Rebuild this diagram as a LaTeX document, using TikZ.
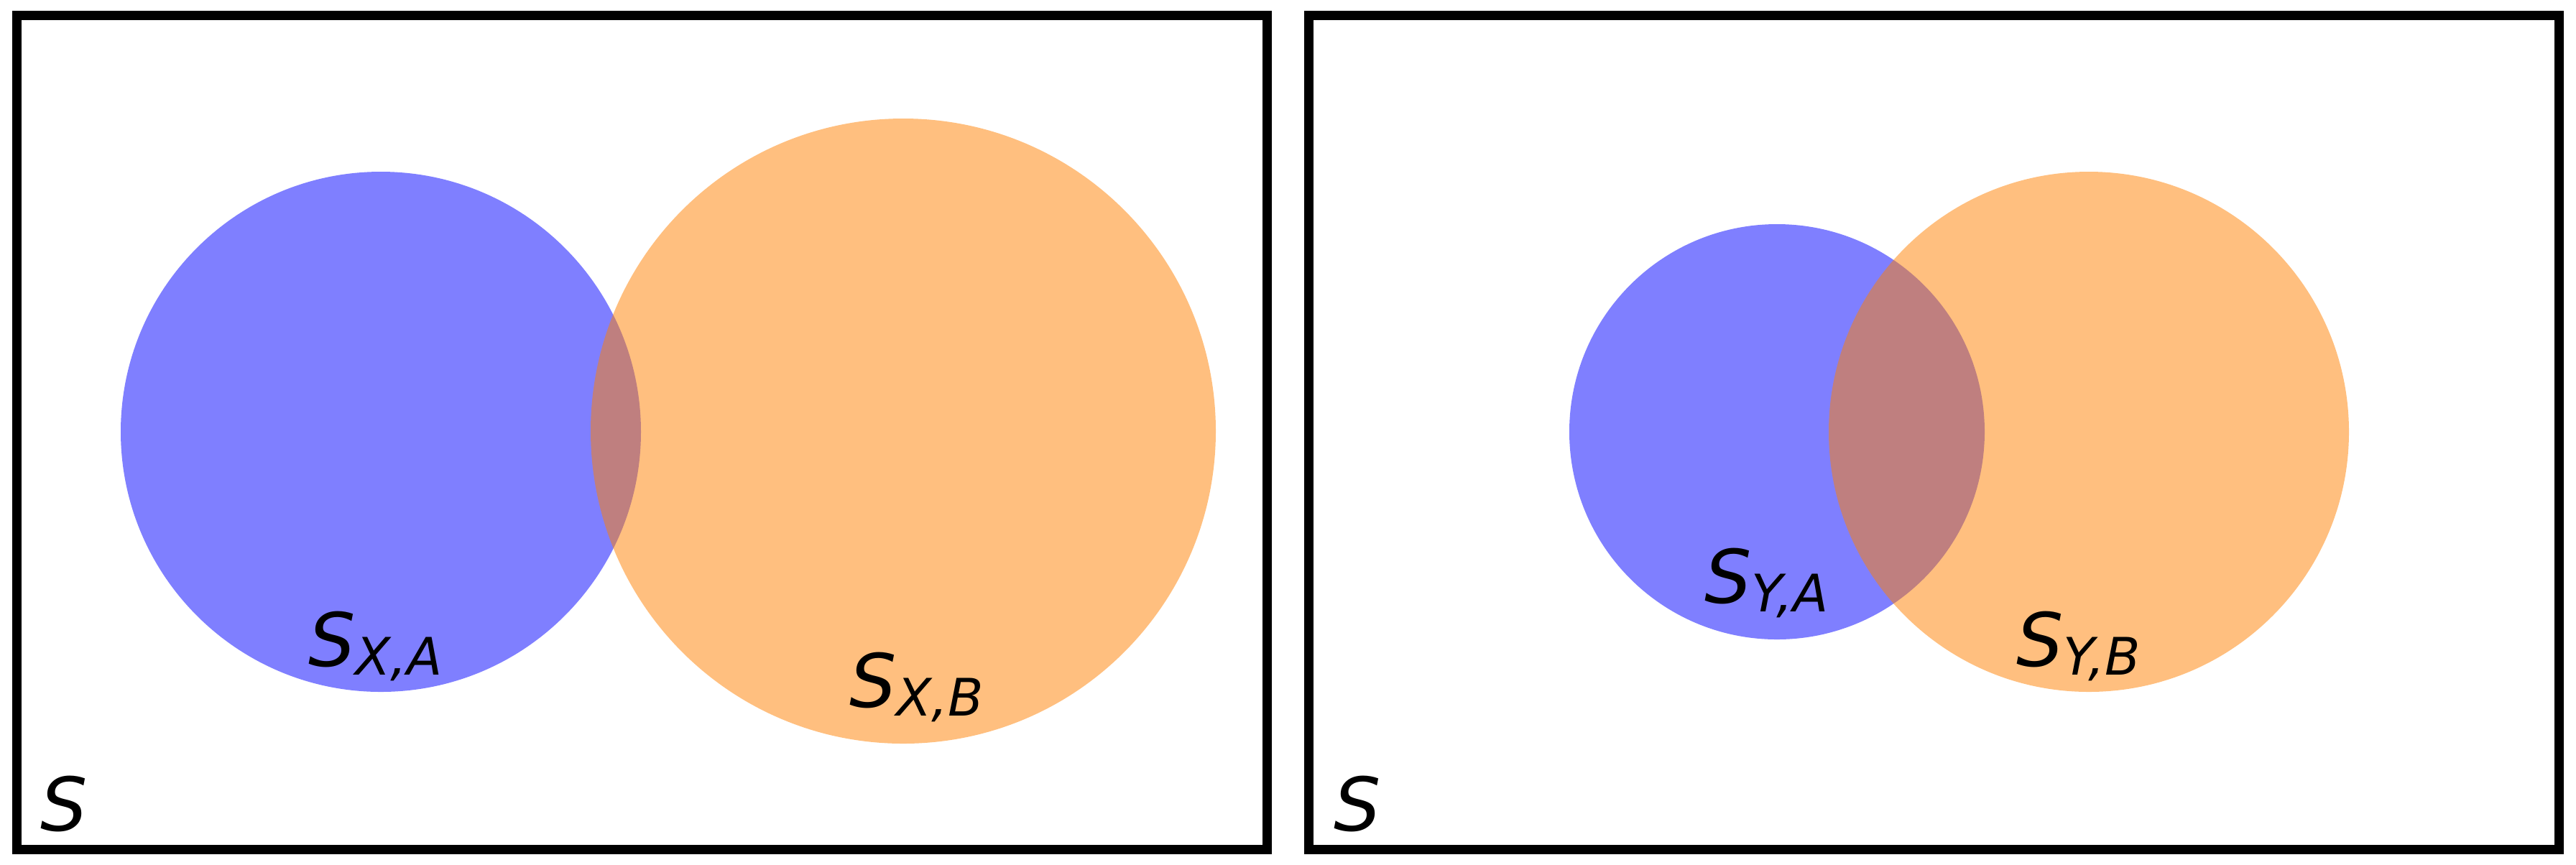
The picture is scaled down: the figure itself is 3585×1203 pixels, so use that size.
\documentclass[tikz,border=0pt]{standalone}
\usepackage{fontspec}
\setmainfont{DejaVu Sans}
\definecolor{setA}{RGB}{0,0,255}
\definecolor{setB}{RGB}{255,128,0}
\newcommand\subtxt[1]{\raisebox{-2.4pt}{\fontsize{14.4}{15}\selectfont #1}}
\begin{document}
\begin{tikzpicture}[x=0.2pt,y=-0.2pt,
  frame/.style={draw=black,line width=2.6pt},
  setAfill/.style={fill=setA,fill opacity=0.5},
  setBfill/.style={fill=setB,fill opacity=0.5},
  lbl/.style={anchor=base west,inner sep=0pt,font=\fontsize{20.6}{21}\selectfont\itshape}]
\useasboundingbox (0,0) rectangle (3585,1203);
% left panel
\fill[setAfill] (530,601) circle [radius=362];
\fill[setBfill] (1257,600) circle [radius=435];
\draw[frame] (23.5,21.5) rectangle (1763.5,1182);
\node[lbl] (sxa) at (428,927) {S\subtxt{X,A}};
\node[lbl] (sxb) at (1181,984) {S\subtxt{X,B}};
\node[lbl] (s1) at (55,1156) {S};
% right panel
\fill[setAfill] (2473,601) circle [radius=289];
\fill[setBfill] (2907,601) circle [radius=362];
\draw[frame] (1821.5,21.5) rectangle (3561,1182);
\node[lbl] (sya) at (2371,839) {S\subtxt{Y,A}};
\node[lbl] (syb) at (2805,927) {S\subtxt{Y,B}};
\node[lbl] (s2) at (1855,1156) {S};
\end{tikzpicture}
\end{document}
